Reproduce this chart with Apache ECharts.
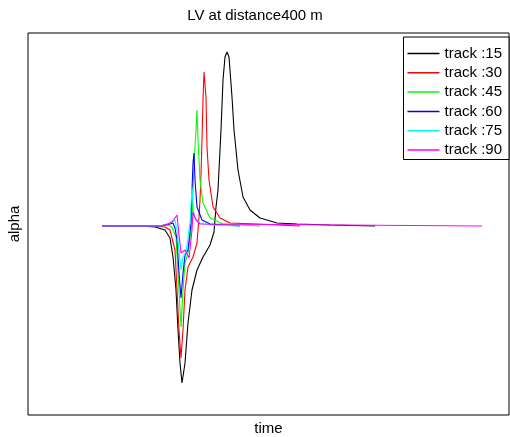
<!DOCTYPE html>
<html>
<head>
<meta charset="utf-8">
<script src="https://cdn.jsdelivr.net/npm/echarts@6/dist/echarts.min.js"></script>
<style>
html,body{margin:0;padding:0;background:#fff;}
#chart{width:510px;height:437px;}
</style>
</head>
<body>
<div id="chart"></div>
<script>
var titleText = "LV at distance400 m";
var xName = "time";
var yName = "alpha";
var seriesNames = ["track :15", "track :30", "track :45", "track :60", "track :75", "track :90"];

// [time, alpha] pairs
var track15 = [[74,0],[112,0],[127,-0.01],[137,-0.04],[142,-0.12],[145,-0.31],[148,-0.64],[150,-1.04],[152,-1.37],[154,-1.57],[157,-1.37],[160,-0.97],[164,-0.64],[169,-0.44],[175,-0.31],[182,-0.19],[186,-0.06],[188,0.19],[190,0.36],[193,0.96],[195,1.46],[197,1.69],[199,1.74],[201,1.69],[204,1.29],[206,0.96],[210,0.56],[215,0.29],[222,0.16],[232,0.08],[249,0.03],[269,0.02],[302,0.01],[347,0]];
var track30 = [[74,0],[122,0],[137,-0.01],[142,-0.04],[147,-0.24],[149,-0.64],[151,-1.04],[153,-1.32],[155,-1.04],[157,-0.64],[160,-0.41],[165,-0.31],[169,-0.17],[171,0.09],[172,0.26],[173,0.51],[174,0.86],[175,1.26],[176,1.54],[178,1.29],[179,0.79],[181,0.46],[185,0.19],[192,0.08],[202,0.03],[229,0.02],[272,0]];
var track45 = [[74,0],[132,0],[140,0.01],[144,-0.01],[148,-0.11],[150,-0.47],[153,-1.01],[155,-0.64],[157,-0.37],[160,-0.27],[164,0.03],[165,0.36],[166,0.63],[168,0.96],[169,1.16],[170,0.86],[172,0.46],[175,0.23],[182,0.08],[195,0.02],[232,0]];
var track60 = [[74,0],[132,0],[142,0.02],[145,0.03],[147,-0.02],[149,-0.14],[151,-0.47],[153,-0.72],[155,-0.47],[157,-0.29],[160,-0.24],[163,0.03],[164,0.36],[165,0.63],[166,0.73],[167,0.46],[169,0.19],[174,0.06],[182,0.02],[212,0]];
var track75 = [[74,0],[132,0],[142,0.03],[147,0.06],[149,-0.04],[151,-0.24],[153,-0.44],[155,-0.31],[158,-0.26],[162,0.03],[164,0.38],[166,0.09],[172,0.03],[182,0.01],[212,0]];
var track90 = [[74,0],[132,0],[140,0.02],[145,0.05],[149,0.11],[151,-0.09],[153,-0.27],[157,-0.24],[159,-0.26],[161,-0.32],[164,-0.04],[165,0.14],[168,0.06],[172,0.02],[454,0]];

var allData = [track15, track30, track45, track60, track75, track90];
var colors = ["#000000", "#ff0000", "#00ff00", "#0000ff", "#00ffff", "#ff00ff"];

var FONT = "'Liberation Sans', Arial, sans-serif";
var chart = echarts.init(document.getElementById('chart'), null, {renderer: 'canvas'});

var series = seriesNames.map(function (n, i) {
  return {
    name: n,
    type: 'line',
    data: allData[i],
    symbol: 'none',
    smooth: false,
    animation: false,
    lineStyle: {color: colors[i], width: 1.1},
    itemStyle: {color: colors[i]},
    z: 2 + i
  };
});

chart.setOption({
  animation: false,
  backgroundColor: '#ffffff',
  title: {
    text: titleText,
    left: 'center',
    top: 3,
    textStyle: {fontFamily: FONT, fontSize: 15, fontWeight: 'normal', color: '#000'}
  },
  grid: {
    left: 28, right: 1, top: 33, bottom: 22,
    outerBoundsMode: 'none',
    containLabel: false,
    show: true, borderColor: '#000', borderWidth: 1, backgroundColor: 'transparent'
  },
  legend: {
    data: seriesNames,
    orient: 'vertical',
    right: 1,
    top: 37,
    icon: 'rect',
    itemWidth: 32,
    itemHeight: 1.5,
    itemGap: 4.3,
    padding: [9, 7, 2, 4],
    borderColor: '#000',
    borderWidth: 1,
    backgroundColor: '#fff',
    textStyle: {fontFamily: FONT, fontSize: 15, color: '#000'}
  },
  xAxis: {
    type: 'value',
    min: 0, max: 481,
    name: xName,
    nameLocation: 'middle',
    nameGap: 6,
    nameTextStyle: {fontFamily: FONT, fontSize: 15, color: '#000', verticalAlign: 'top'},
    axisLine: {show: false},
    axisTick: {show: false},
    axisLabel: {show: false},
    splitLine: {show: false}
  },
  yAxis: {
    type: 'value',
    min: -1.89, max: 1.93,
    name: yName,
    nameLocation: 'middle',
    nameGap: 6,
    nameTextStyle: {fontFamily: FONT, fontSize: 15, color: '#000'},
    axisLine: {show: false},
    axisTick: {show: false},
    axisLabel: {show: false},
    splitLine: {show: false}
  },
  series: series
});
</script>
</body>
</html>
